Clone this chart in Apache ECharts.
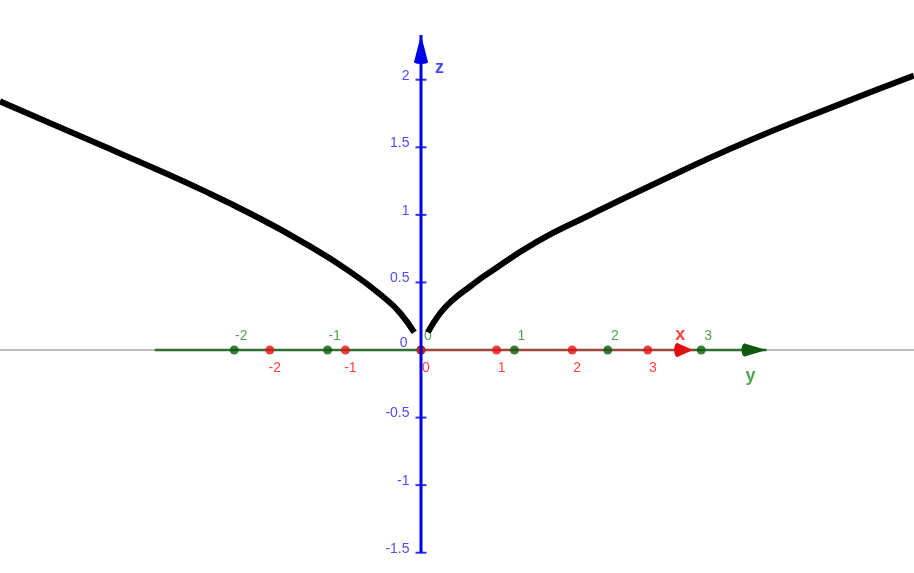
<!DOCTYPE html>
<html><head><meta charset="utf-8">
<script src="https://cdn.jsdelivr.net/npm/echarts@6/dist/echarts.min.js"></script>
<style>html,body{margin:0;padding:0;background:#fff}#c{width:914px;height:573px}</style>
</head><body><div id="c"></div>
<script>
// Tick values of the three axes
const xTicks = [-2, -1, 0, 1, 2, 3];
const yTicks = [-2, -1, 0, 1, 2, 3];
const zTicks = [-1.5, -1, -0.5, 0.5, 1, 1.5, 2];
const zTickLabels = ['-1.5', '-1', '-0.5', '0.5', '1', '1.5', '2'];
// Axis extents (axis units)
const xAxisExtent = [0, 3.6];
const yAxisExtent = [-2.85, 3.7];
const zAxisExtent = [-1.5, 2.33];
// Screen-horizontal length of one y unit measured in x units (projection)
const Y_PROJ = 93.4 / 75.6;
// Curve, two branches: horizontal position (x units) and height z
const leftH  = [-5.57, -4.91, -4.25, -3.59, -2.84, -2.26, -1.60, -0.94, -0.45, -0.27, -0.09];
const leftZ  = [ 1.84,  1.68,  1.52,  1.36,  1.17,  1.01,  0.81,  0.58,  0.37,  0.27,  0.13];
const rightH = [0.09, 0.25, 0.42, 0.65, 0.87, 1.53, 2.20, 3.07, 4.26, 5.50, 6.52];
const rightZ = [0.13, 0.27, 0.37, 0.47, 0.56, 0.80, 0.99, 1.225, 1.53, 1.81, 2.03];

const FONT = "'Liberation Sans', Arial, sans-serif";
const chart = echarts.init(document.getElementById('c'), null, {renderer: 'canvas'});
const zip = (a, b) => a.map((v, i) => [v, b[i]]);

function arrow(tip, dir, len, halfW, color, zl) {
  return {
    type: 'custom', coordinateSystem: 'cartesian2d', z: zl, silent: true,
    data: [tip],
    renderItem: (p, api) => {
      const t = api.coord([api.value(0), api.value(1)]);
      let pts, ell;
      if (dir === 'right') {
        pts = [[t[0], t[1]], [t[0] - len, t[1] - halfW], [t[0] - len, t[1] + halfW]];
        ell = {cx: t[0] - len, cy: t[1], rx: 3, ry: halfW};
      } else {
        pts = [[t[0], t[1]], [t[0] - halfW, t[1] + len], [t[0] + halfW, t[1] + len]];
        ell = {cx: t[0], cy: t[1] + len, rx: halfW, ry: 2};
      }
      return {type: 'group', children: [
        {type: 'polygon', shape: {points: pts}, style: {fill: color}},
        {type: 'ellipse', shape: ell, style: {fill: color}}
      ]};
    }
  };
}

const option = {
  animation: false,
  backgroundColor: '#ffffff',
  grid: {left: 0, right: 0, top: 0, bottom: 0},
  xAxis: {type: 'value', min: -421 / 75.6, max: 493 / 75.6, show: false},
  yAxis: {type: 'value', min: -223 / 135.14, max: 350 / 135.14, show: false},
  series: [
    // horizon line
    {type: 'line', data: [[-421 / 75.6, 0], [493 / 75.6, 0]], symbol: 'none', z: 1,
      lineStyle: {color: '#a8a8a8', width: 1.5}, silent: true},
    // y axis (green)
    {type: 'line', data: yAxisExtent.map(v => [v * Y_PROJ, 0]), symbol: 'none', z: 2,
      lineStyle: {color: '#2f6f2f', width: 2.5}, silent: true},
    // x axis (red)
    {type: 'line', data: xAxisExtent.map(v => [v, 0]), symbol: 'none', z: 3,
      lineStyle: {color: '#b43c3c', width: 2}, silent: true},
    arrow([yAxisExtent[1] * Y_PROJ, 0], 'right', 22, 6.5, '#0f5a0f', 4),
    arrow([xAxisExtent[1], 0], 'right', 16, 7, '#e01010', 5),
    // green y ticks
    {type: 'scatter', data: yTicks.map(v => [v * Y_PROJ, 0]), symbol: 'circle', symbolSize: 9, z: 6,
      itemStyle: {color: '#0b5c0b'}, silent: true,
      label: {show: true, position: 'top', distance: 2, offset: [7, 0],
        formatter: p => String(yTicks[p.dataIndex]), color: '#228f22', fontSize: 14, fontFamily: FONT}},
    // red x ticks
    {type: 'scatter', data: xTicks.map(v => [v, 0]), symbol: 'circle', symbolSize: 9, z: 7,
      itemStyle: {color: '#e41212'}, silent: true,
      label: {show: true, position: 'bottom', distance: 7, offset: [5, 0],
        formatter: p => String(xTicks[p.dataIndex]), color: '#ff1010', fontSize: 14, fontFamily: FONT}},
    // z axis (blue)
    {type: 'line', data: zAxisExtent.map(v => [0, v]), symbol: 'none', z: 8,
      lineStyle: {color: '#0000e6', width: 3}, silent: true},
    arrow([0, zAxisExtent[1]], 'up', 27, 7, '#0000e6', 9),
    {type: 'scatter', data: zTicks.map(v => [0, v]), symbol: 'rect', symbolSize: [11, 2], z: 9,
      itemStyle: {color: '#0000e6'}, silent: true,
      label: {show: true, position: 'left', distance: 6, offset: [0, -4],
        formatter: p => zTickLabels[p.dataIndex], color: '#1a1aff', fontSize: 14, fontFamily: FONT}},
    {type: 'scatter', data: [[0, 0]], symbol: 'rect', symbolSize: [11, 2], z: 9,
      itemStyle: {color: 'rgba(0,0,0,0)'}, silent: true,
      label: {show: true, position: 'left', distance: 6, offset: [-2, -7],
        formatter: '0', color: '#1a1aff', fontSize: 14, fontFamily: FONT}},
    // axis names
    {type: 'scatter', data: [[0, zAxisExtent[1]]], symbolSize: 1, z: 10,
      itemStyle: {color: 'rgba(0,0,0,0)'}, silent: true,
      label: {show: true, position: 'inside', offset: [18.5, 32.5], formatter: 'z',
        color: '#1a1aff', fontSize: 18, fontWeight: 'bold', fontFamily: FONT}},
    {type: 'scatter', data: [[xAxisExtent[1], 0]], symbolSize: 1, z: 10,
      itemStyle: {color: 'rgba(0,0,0,0)'}, silent: true,
      label: {show: true, position: 'inside', offset: [-13, -15], formatter: 'x',
        color: '#ff1010', fontSize: 18, fontWeight: 'bold', fontFamily: FONT}},
    {type: 'scatter', data: [[yAxisExtent[1] * Y_PROJ, 0]], symbolSize: 1, z: 10,
      itemStyle: {color: 'rgba(0,0,0,0)'}, silent: true,
      label: {show: true, position: 'inside', offset: [-16, 26], formatter: 'y',
        color: '#228f22', fontSize: 18, fontWeight: 'bold', fontFamily: FONT}},
    // curve branches
    {type: 'line', data: zip(leftH, leftZ), smooth: 0.5, symbol: 'none', z: 11,
      lineStyle: {color: '#000000', width: 6}, silent: true},
    {type: 'line', data: zip(rightH, rightZ), smooth: 0.5, symbol: 'none', z: 11,
      lineStyle: {color: '#000000', width: 6}, silent: true}
  ]
};
chart.setOption(option);
</script></body></html>
